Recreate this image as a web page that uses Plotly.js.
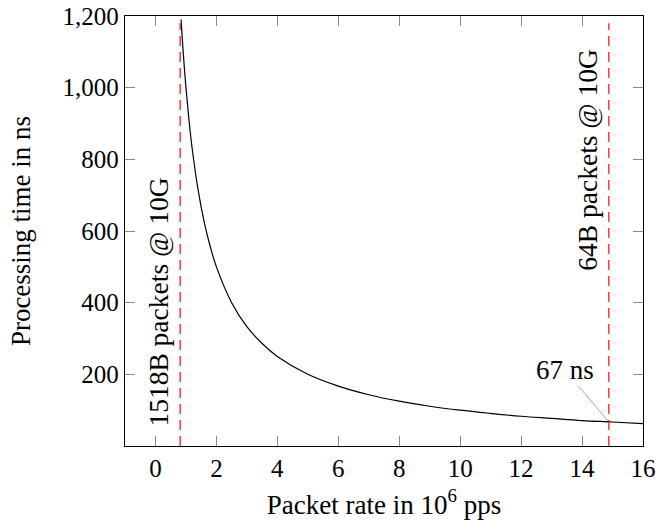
<!DOCTYPE html>
<html>
<head>
<meta charset="utf-8">
<script src="https://cdn.plot.ly/plotly-3.0.1.min.js"></script>
<style>html,body{margin:0;padding:0;background:#fff;}</style>
</head>
<body>
<div id="chart" style="width:672px;height:520px;"></div>
<script>
// Packet rate (Mpps) and processing time (ns)
const rate = [0.84, 0.9, 1.0, 1.1, 1.2, 1.4, 1.6, 1.8, 2.0, 2.5, 3.0, 3.5, 4.0, 5.0, 6.0, 7.0, 8.0, 9.0, 10.0, 11.0, 12.0, 13.0, 14.0, 15.0, 16.0];
const timeNs = [1190, 1111, 1000, 909, 833, 714, 625, 556, 500, 400, 333, 286, 250, 200, 167, 143, 125, 111, 100, 91, 83, 77, 71, 67, 62.5];
// Line-rate markers
const markerRates = [0.81, 14.88];
const markerLabels = ["1518B packets @ 10G", "64B packets @ 10G"];
const markerLabelY = [402, 800];
const calloutRate = 14.88;
const calloutTime = 67;
const calloutText = "67 ns";
const xTicks = [0, 2, 4, 6, 8, 10, 12, 14, 16];
const yTicks = [200, 400, 600, 800, 1000, 1200];
const yTickText = ["200", "400", "600", "800", "1,000", "1,200"];

const font = {family: "Liberation Serif, Times New Roman, serif", color: "#000"};
const TICK = 25, TXT = 27, NOTE = 27.5;

const traces = [{
  x: rate, y: timeNs, type: "scatter", mode: "lines",
  line: {color: "#000", width: 1.2, shape: "spline"},
  hoverinfo: "skip", showlegend: false
}];

const shapes = markerRates.map(r => ({
  type: "line", xref: "x", yref: "y", x0: r, x1: r, y0: 0, y1: 1180,
  line: {color: "#ff0000", width: 1.2, dash: "10px,6px"}
}));

const annotations = markerRates.map((r, i) => ({
  x: r, y: markerLabelY[i], xref: "x", yref: "y", text: markerLabels[i],
  textangle: -90, showarrow: false, xanchor: "right", yanchor: "middle", xshift: -4,
  font: Object.assign({size: NOTE}, font)
}));
annotations.push({
  x: calloutRate, y: calloutTime, xref: "x", yref: "y", text: calloutText,
  showarrow: true, arrowhead: 0, arrowwidth: 0.6, arrowcolor: "#666",
  ax: -44, ay: -52, xanchor: "center", yanchor: "middle",
  font: Object.assign({size: TXT}, font)
});

const layout = {
  width: 672, height: 520,
  margin: {l: 125, r: 29, t: 16, b: 74},
  paper_bgcolor: "#fff", plot_bgcolor: "#fff",
  font: Object.assign({size: TXT}, font),
  showlegend: false,
  xaxis: {
    range: [-1, 16], tickvals: xTicks, ticktext: xTicks.map(String),
    ticks: "inside", ticklen: 10, tickcolor: "#888", tickwidth: 1,
    showline: true, linecolor: "#000", linewidth: 1.2, mirror: "ticks",
    showgrid: false, zeroline: false,
    tickfont: Object.assign({size: TICK}, font),
    title: {text: "Packet rate in 10<sup>6</sup> pps", font: Object.assign({size: TXT}, font), standoff: 13}
  },
  yaxis: {
    range: [0, 1200], tickvals: yTicks, ticktext: yTickText,
    ticks: "inside", ticklen: 10, tickcolor: "#888", tickwidth: 1,
    showline: true, linecolor: "#000", linewidth: 1.2, mirror: "ticks",
    showgrid: false, zeroline: false,
    tickfont: Object.assign({size: TICK}, font),
    title: {text: "Processing time in ns", font: Object.assign({size: TXT}, font), standoff: 24}
  },
  shapes: shapes,
  annotations: annotations
};

Plotly.newPlot("chart", traces, layout, {displayModeBar: false, staticPlot: true});
</script>
</body>
</html>
